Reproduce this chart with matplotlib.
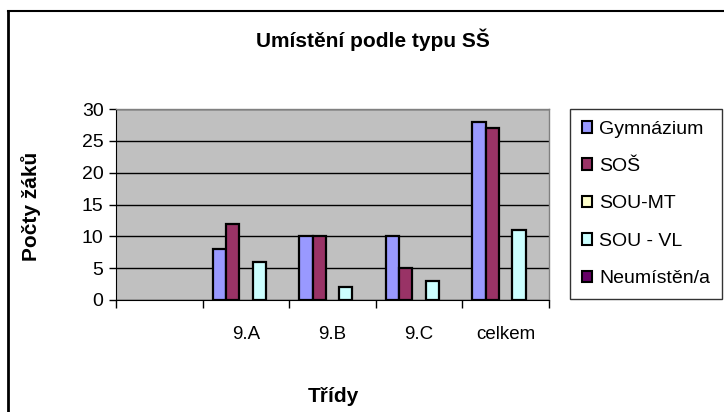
import matplotlib
matplotlib.use("Agg")
import matplotlib.pyplot as plt
from matplotlib.lines import Line2D
from matplotlib.ticker import FixedLocator
import numpy as np

plt.rcParams['font.family'] = ['Liberation Sans', 'DejaVu Sans']

categories = ["", "9.A", "9.B", "9.C", "celkem"]
series_names = ["Gymnázium", "SOŠ", "SOU-MT", "SOU - VL", "Neumístěn/a"]
gymnazium = [0, 8, 10, 10, 28]
sos = [0, 12, 10, 5, 27]
sou_mt = [0, 0, 0, 0, 0]
sou_vl = [0, 6, 2, 3, 11]
neumisten = [0, 0, 0, 0, 0]
series_values = [gymnazium, sos, sou_mt, sou_vl, neumisten]
colors = ["#9999FF", "#993366", "#FFFFCC", "#CCFFFF", "#660066"]

W, H = 724, 412
fig = plt.figure(figsize=(W / 100, H / 100), dpi=100)
ax = fig.add_axes([116 / W, 1 - 300 / H, (549 - 116) / W, (300 - 109) / H])
ax.set_facecolor("#C0C0C0")

x = np.arange(len(categories))
w = 1 / 6.5
for i, (name, vals, c) in enumerate(zip(series_names, series_values, colors)):
    lws = [1.6 if v else 0 for v in vals]
    ax.bar(x + (i - 2) * w, vals, width=w, color=c, edgecolor="black",
           linewidth=lws, label=name, zorder=3)

ax.set_xlim(-0.5, len(categories) - 0.5)
ax.set_ylim(0, 30)
ax.set_yticks(range(0, 31, 5))
ax.yaxis.grid(True, color="black", linewidth=1.0, zorder=1)
ax.set_axisbelow(True)

ax.set_xticks(x)
ax.set_xticklabels(categories, fontsize=13.5)
ax.xaxis.set_minor_locator(FixedLocator(np.arange(-0.5, len(categories), 1.0)))
ax.tick_params(axis="x", which="major", length=0, pad=19)
ax.tick_params(axis="x", which="minor", length=6, width=1, direction="out", color="black")
ax.tick_params(axis="y", which="major", length=5, width=1, direction="out", labelsize=14, pad=4)

for s in ["top", "right"]:
    ax.spines[s].set_visible(True)
    ax.spines[s].set_color("#808080")
    ax.spines[s].set_linewidth(1)
ax.spines["left"].set_color("black")
ax.spines["bottom"].set_color("black")

fig.text(373 / W, 1 - 40 / H, "Umístění podle typu SŠ", ha="center", va="center",
         fontsize=15, fontweight="bold")
fig.text(31 / W, 1 - 206 / H, "Počty žáků", ha="center", va="center",
         rotation=90, fontsize=15, fontweight="bold")
fig.text(333 / W, 1 - 397 / H, "Třídy", ha="center", va="center",
         fontsize=15, fontweight="bold")

leg = fig.legend(loc="upper left", bbox_to_anchor=(570 / W, 1 - 109 / H),
                 fontsize=14, frameon=True, fancybox=False, edgecolor="black",
                 handlelength=0.55, handleheight=0.55, handletextpad=0.35,
                 labelspacing=1.05, borderpad=0.6, borderaxespad=0)
leg.get_frame().set_linewidth(1)
for h in leg.legend_handles:
    h.set_linewidth(1.5)
    h.set_edgecolor("black")

fig.add_artist(Line2D([8 / W, 8 / W], [0, 1 - 11 / H], transform=fig.transFigure,
                      color="black", linewidth=2))
fig.add_artist(Line2D([8 / W, 1], [1 - 11 / H, 1 - 11 / H], transform=fig.transFigure,
                      color="black", linewidth=1.5))

fig.savefig("out.png", dpi=100)
